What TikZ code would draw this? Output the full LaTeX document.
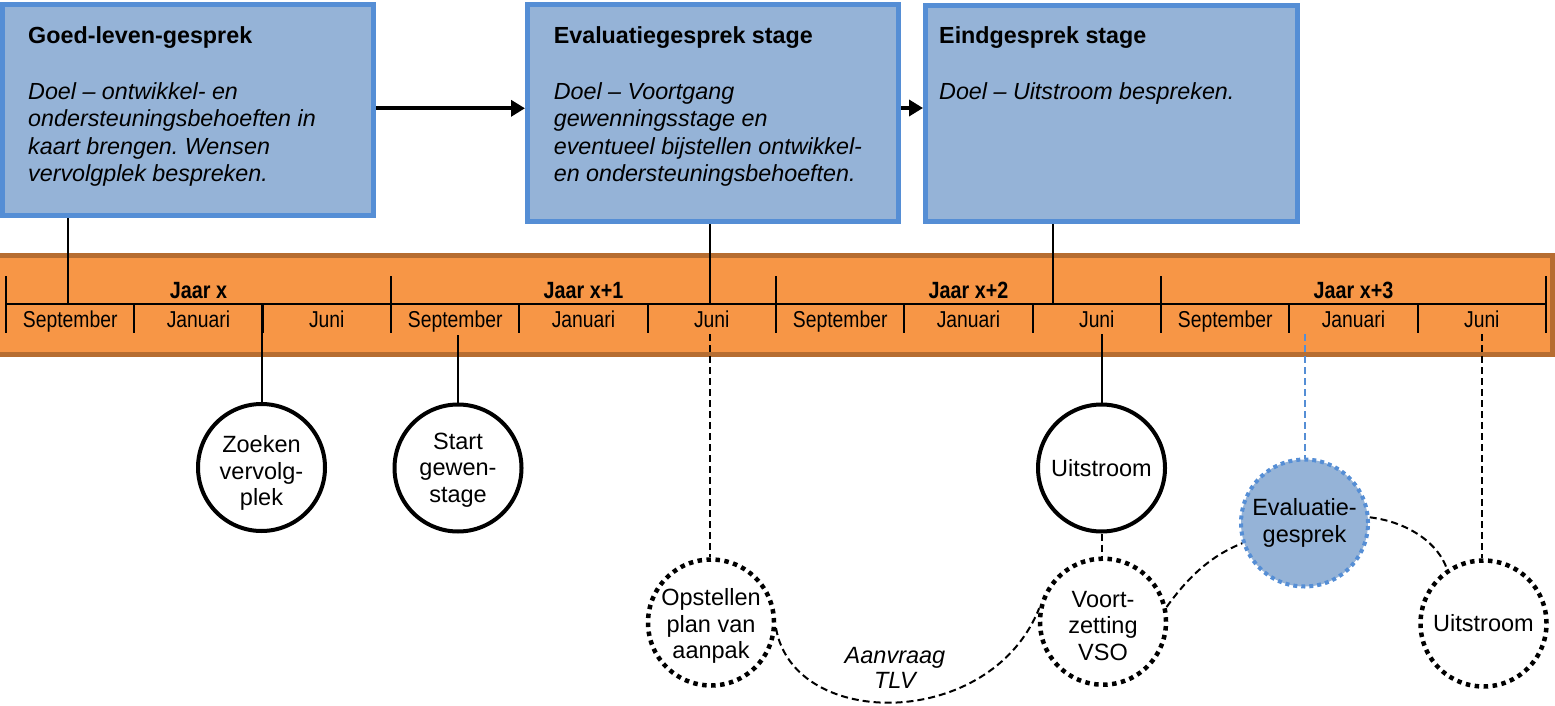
\documentclass[tikz,border=0pt]{standalone}
\usepackage{fontspec}
\setmainfont{Liberation Sans}
\newfontfamily\narrowfont[FakeStretch=0.84]{Liberation Sans}
\usetikzlibrary{arrows.meta}
\definecolor{boxfill}{HTML}{95B3D7}
\definecolor{boxline}{HTML}{558ED5}
\definecolor{bandfill}{HTML}{F79646}
\definecolor{bandline}{HTML}{B66D31}
\frenchspacing
\begin{document}
\begin{tikzpicture}[x=1pt,y=-1pt,
  infobox/.style={draw=boxline, fill=boxfill, line width=5pt, inner sep=0pt},
  band/.style={draw=bandline, fill=bandfill, line width=5pt, inner sep=0pt},
  boxtext/.style={anchor=base west, inner sep=0pt},
  conn/.style={line width=2pt},
  dconn/.style={line width=2pt, dash pattern=on 7pt off 4pt},
  bconn/.style={draw=boxline, line width=2pt, dash pattern=on 7pt off 4pt},
  tick/.style={line width=2pt},
  solidcirc/.style={circle, draw, line width=4pt, fill=white, minimum size=127pt, inner sep=0pt},
  dotcirc/.style={circle, draw, line width=4.5pt, dash pattern=on 4.5pt off 4.5pt, minimum size=126pt, inner sep=0pt},
  evcirc/.style={circle, draw=boxline, fill=boxfill, line width=4pt, dash pattern=on 4pt off 4pt, minimum size=127pt, inner sep=0pt},
  circtext/.style={align=center, font=\fontsize{23.5}{26.7}\selectfont, inner sep=0pt},
  bigarrow/.style={line width=4pt, -{Triangle[length=14pt,width=16pt]}},
  yearlbl/.style={font=\narrowfont\bfseries\fontsize{23.5}{23.5}\selectfont, anchor=base, inner sep=0pt},
  monthlbl/.style={font=\narrowfont\fontsize{23}{23}\selectfont, anchor=base, inner sep=0pt}
]
\useasboundingbox (0,0) rectangle (1555,706);

% top boxes
\node[infobox, minimum width=370.9pt, minimum height=211pt] (b1) at (188.05,110) {};
\node[infobox, minimum width=371pt, minimum height=216.5pt] (b2) at (713,113.25) {};
\node[infobox, minimum width=372pt, minimum height=215.5pt] (b3) at (1111.5,113.75) {};

\node[boxtext] (t1) at (28,44) {\parbox[t]{340pt}{\fontsize{23.3}{27.6}\selectfont
  \textbf{Goed-leven-gesprek}\\ \mbox{}\\
  \textit{Doel -- ontwikkel- en}\\
  \textit{ondersteuningsbehoeften in}\\
  \textit{kaart brengen. Wensen}\\
  \textit{vervolgplek bespreken.}}};
\node[boxtext] (t2) at (553.6,44) {\parbox[t]{340pt}{\fontsize{23.3}{27.6}\selectfont
  \textbf{Evaluatiegesprek stage}\\ \mbox{}\\
  \textit{Doel -- Voortgang}\\
  \textit{gewenningsstage en}\\
  \textit{eventueel bijstellen ontwikkel-}\\
  \textit{en ondersteuningsbehoeften.}}};
\node[boxtext] (t3) at (939,44) {\parbox[t]{340pt}{\fontsize{23.3}{27.6}\selectfont
  \textbf{Eindgesprek stage}\\ \mbox{}\\
  \textit{Doel -- Uitstroom bespreken.}}};

\coordinate (a1) at (0,108.3);
\coordinate (a2) at (0,108);
\draw[bigarrow] (b1.east |- a1) -- (b2.west |- a1);
\draw[bigarrow] (b2.east |- a2) -- (b3.west |- a2);

% band
\node[band, minimum width=1555.5pt, minimum height=99pt] (band) at (774.75,305) {};
\draw[tick] (6,304) -- (1546,304);
\foreach \k in {0,1,2,3,4} {
  \draw[tick] ({6+385*\k},276) -- ({6+385*\k},333);
}
\foreach \k in {0,1,2,3} {
  \draw[tick] ({134.3+385*\k},304) -- ({134.3+385*\k},333);
  \draw[tick] ({262.7+385*\k},304) -- ({262.7+385*\k},333);
  \node[monthlbl] at ({70.2+385*\k},327) {September};
  \node[monthlbl] at ({198.5+385*\k},327) {Januari};
  \node[monthlbl] at ({326.8+385*\k},327) {Juni};
}
\node[yearlbl] (y0) at (198.5,298) {Jaar x};
\node[yearlbl] (y1) at (583.5,298) {Jaar x+1};
\node[yearlbl] (y2) at (968.5,298) {Jaar x+2};
\node[yearlbl] (y3) at (1353.5,298) {Jaar x+3};

% box connectors
\coordinate (p1) at (68,304);
\coordinate (p2) at (710,304);
\coordinate (p3) at (1053,304);
\draw[conn] (b1.south -| p1) -- (p1);
\draw[conn] (b2.south -| p2) -- (p2);
\draw[conn] (b3.south -| p3) -- (p3);

% circles
\node[solidcirc] (zk) at (261.5,467.5) {};
\node[circtext] (zkt) at (261.5,473) {Zoeken\\vervolg-\\plek};
\node[solidcirc] (st) at (458,468) {};
\node[circtext] (stt) at (458,470) {Start\\gewen-\\stage};
\node[dotcirc] (op) at (711,622.5) {};
\node[circtext] (opt) at (711,626) {Opstellen\\plan van\\aanpak};
\node[solidcirc] (u1) at (1101.5,468) {};
\node[circtext] (u1t) at (1101.5,468) {Uitstroom};
\node[dotcirc] (vz) at (1103,621.7) {};
\node[circtext] (vzt) at (1103,626) {Voort-\\zetting\\VSO};
\node[evcirc] (ev) at (1304.5,523) {};
\node[circtext] (evt) at (1304.5,523) {Evaluatie-\\gesprek};
\node[dotcirc] (u2) at (1483.5,623.5) {};
\node[circtext] (u2t) at (1483.5,623.5) {Uitstroom};

% timeline to circles
\coordinate (q1) at (262,304);
\coordinate (q2) at (458,335);
\coordinate (q3) at (710,334);
\coordinate (q4) at (1101.5,334);
\coordinate (q5) at (1305,334);
\coordinate (q6) at (1482,334);
\draw[conn] (q1) -- (q1 |- zk.north);
\draw[conn] (q2) -- (q2 |- st.north);
\draw[dconn] (q3) -- (q3 |- op.north);
\draw[conn] (q4) -- (q4 |- u1.north);
\draw[bconn] (q5) -- (q5 |- ev.north);
\draw[dconn] (q6) -- (q6 |- u2.north);
\draw[dconn] (u1.south) -- (vz.north -| u1.south);

% curves
\draw[dconn] (op.-5) .. controls +(18,103) and +(-48,122) .. (vz.168);
\draw[dconn] (vz.13) .. controls +(23,-32) and +(-30,12) .. (ev.198);
\draw[dconn] (ev.5) .. controls +(40,5) and +(-8,-25) .. (u2.124);
\node[align=center, inner sep=0pt, font=\itshape\fontsize{23.5}{25}\selectfont] (tlv) at (895,668) {Aanvraag\\TLV};
\end{tikzpicture}
\end{document}
